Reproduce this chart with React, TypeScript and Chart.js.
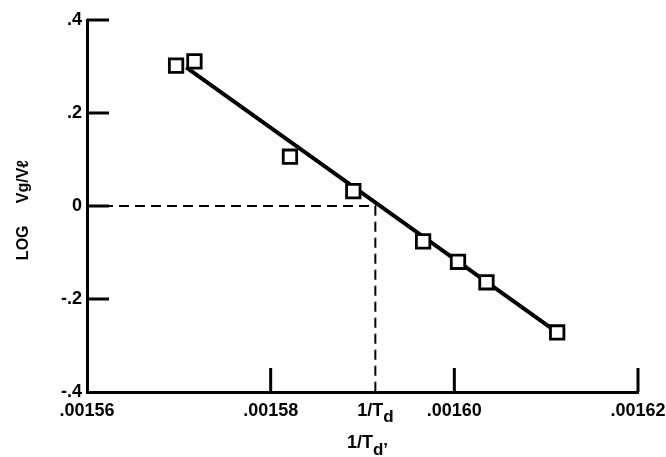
import React, { useEffect, useRef } from 'react';
import { Chart, registerables } from 'chart.js';

Chart.register(...registerables);

// Measured data points (1/T vs log Vg/Vl)
const measuredX = [0.0015697, 0.0015717, 0.0015821, 0.001589, 0.0015966, 0.0016004, 0.0016035, 0.0016112];
const measuredY = [0.302, 0.311, 0.106, 0.032, -0.076, -0.12, -0.164, -0.272];

// Fitted straight line end points
const fitX = [0.0015708, 0.0016112];
const fitY = [0.298, -0.272];

// Intercept value 1/Td where the fit crosses log = 0
const crossX = 0.0015914;

const xTicks = [0.00156, 0.00158, 0.0016, 0.00162];
const xTickLabels = ['.00156', '.00158', '.00160', '.00162'];
const yTicks = [-0.4, -0.2, 0, 0.2, 0.4];
const yTickLabels = ['-.4', '-.2', '0', '.2', '.4'];

const FONT = "'Liberation Sans', Arial, sans-serif";

type Part = { text: string; size: number; dy: number };

function drawParts(ctx: CanvasRenderingContext2D, parts: Part[], cx: number, baseY: number) {
  let total = 0;
  const widths = parts.map((p) => {
    ctx.font = `bold ${p.size}px ${FONT}`;
    const w = ctx.measureText(p.text).width;
    total += w;
    return w;
  });
  let x = cx - total / 2;
  parts.forEach((p, i) => {
    ctx.font = `bold ${p.size}px ${FONT}`;
    ctx.fillText(p.text, x, baseY + p.dy);
    x += widths[i];
  });
}

const decorPlugin = {
  id: 'decor',
  afterDraw(chart: any) {
    const ctx: CanvasRenderingContext2D = chart.ctx;
    const xs = chart.scales.x;
    const ys = chart.scales.y;
    const left = chart.chartArea.left;
    const bottom = chart.chartArea.bottom;
    ctx.save();
    ctx.strokeStyle = '#000';
    ctx.fillStyle = '#000';
    ctx.lineWidth = 3;
    ctx.lineCap = 'butt';
    // inward ticks on y axis
    yTicks.forEach((v, i) => {
      if (i === 0) return;
      const py = ys.getPixelForValue(v);
      ctx.beginPath();
      ctx.moveTo(left, py);
      ctx.lineTo(left + 22, py);
      ctx.stroke();
    });
    // inward ticks on x axis
    xTicks.forEach((v, i) => {
      if (i === 0) return;
      const px = xs.getPixelForValue(v);
      ctx.beginPath();
      ctx.moveTo(px, bottom);
      ctx.lineTo(px, bottom - 24);
      ctx.stroke();
    });
    // 1/Td annotation label on x axis
    ctx.textAlign = 'left';
    ctx.textBaseline = 'alphabetic';
    drawParts(
      ctx,
      [
        { text: '1/T', size: 18, dy: 0 },
        { text: 'd', size: 17, dy: 6 },
      ],
      xs.getPixelForValue(crossX),
      bottom + 24
    );
    // x axis title
    drawParts(
      ctx,
      [
        { text: '1/T', size: 18, dy: 0 },
        { text: 'd', size: 17, dy: 7 },
        { text: '\u2019', size: 17, dy: 7 },
      ],
      (xs.left + xs.right) / 2 + 5,
      bottom + 56
    );
    // y axis title
    ctx.save();
    ctx.translate(28, (ys.top + ys.bottom) / 2 + 4);
    ctx.rotate(-Math.PI / 2);
    ctx.textAlign = 'center';
    ctx.font = `bold 16px ${FONT}`;
    ctx.fillText('LOG     Vg/Vℓ', 0, 0);
    ctx.restore();
    ctx.restore();
  },
};

export default function App() {
  const ref = useRef<HTMLCanvasElement | null>(null);

  useEffect(() => {
    if (!ref.current) return;
    const chart = new Chart(ref.current, {
      type: 'scatter',
      data: {
        datasets: [
          {
            label: 'measured',
            data: measuredX.map((x, i) => ({ x, y: measuredY[i] })),
            pointStyle: 'rect',
            pointRadius: 9.5,
            pointHoverRadius: 9.5,
            pointBorderWidth: 2.8,
            borderColor: '#000',
            backgroundColor: '#fff',
            showLine: false,
            order: 0,
          },
          {
            label: 'fit',
            data: fitX.map((x, i) => ({ x, y: fitY[i] })),
            showLine: true,
            borderColor: '#000',
            borderWidth: 4,
            pointRadius: 0,
            order: 1,
          },
          {
            label: 'guide',
            data: [
              { x: xTicks[0], y: 0 },
              { x: crossX, y: 0 },
              { x: crossX, y: yTicks[0] },
            ],
            showLine: true,
            borderColor: '#000',
            borderWidth: 2,
            borderDash: [10, 6],
            pointRadius: 0,
            order: 2,
          },
        ],
      },
      options: {
        animation: false,
        responsive: true,
        maintainAspectRatio: false,
        layout: { padding: { left: 0, top: 20, right: 28, bottom: 0 } },
        plugins: {
          legend: { display: false },
          tooltip: { enabled: false },
        },
        scales: {
          x: {
            type: 'linear',
            min: xTicks[0],
            max: xTicks[xTicks.length - 1],
            afterBuildTicks: (axis: any) => {
              axis.ticks = xTicks.map((value) => ({ value }));
            },
            afterFit: (axis: any) => {
              axis.height = 65;
              axis.paddingLeft = 0;
              axis.paddingRight = 0;
            },
            grid: { display: false, drawTicks: false },
            border: { display: true, color: '#000', width: 3 },
            ticks: {
              autoSkip: false,
              maxRotation: 0,
              padding: 8,
              color: '#000',
              font: { family: FONT, size: 18, weight: 'bold' },
              callback: (_v: any, i: number) => xTickLabels[i],
            },
          },
          y: {
            type: 'linear',
            min: yTicks[0],
            max: yTicks[yTicks.length - 1],
            afterBuildTicks: (axis: any) => {
              axis.ticks = yTicks.map((value) => ({ value }));
            },
            afterFit: (axis: any) => {
              axis.width = 87;
              axis.paddingTop = 0;
              axis.paddingBottom = 0;
            },
            grid: { display: false, drawTicks: false },
            border: { display: true, color: '#000', width: 3 },
            ticks: {
              autoSkip: false,
              padding: 5,
              color: '#000',
              font: { family: FONT, size: 18, weight: 'bold' },
              callback: (_v: any, i: number) => yTickLabels[i],
            },
          },
        },
      },
      plugins: [decorPlugin],
    });
    return () => chart.destroy();
  }, []);

  return (
    <div style={{ position: 'absolute', left: 0, top: 0, width: 666, height: 457, background: '#fff' }}>
      <canvas ref={ref} />
    </div>
  );
}
